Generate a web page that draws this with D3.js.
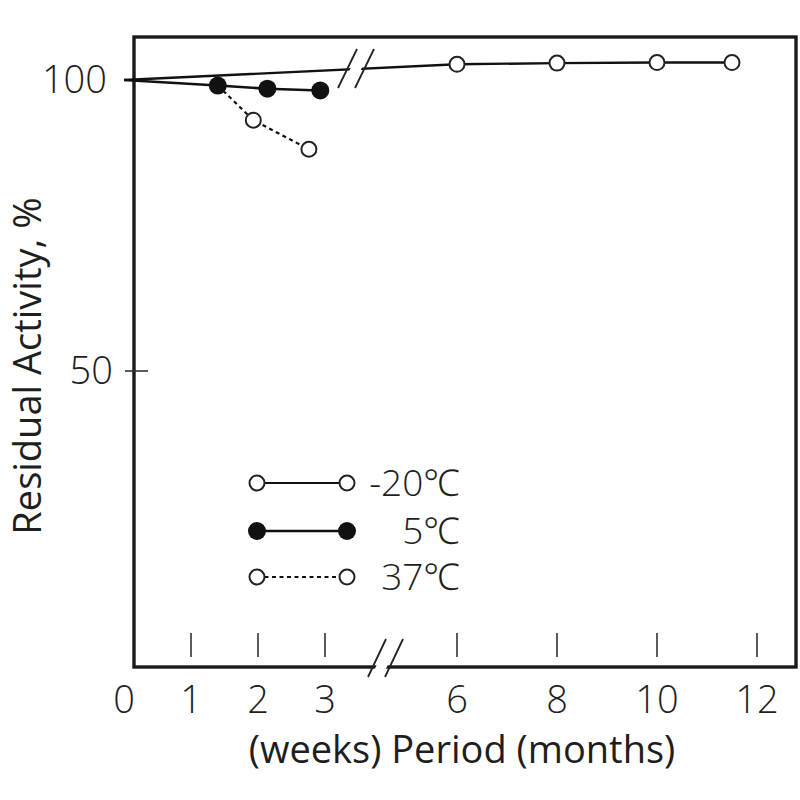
<!DOCTYPE html>
<html>
<head>
<meta charset="utf-8">
<script src="https://cdn.jsdelivr.net/npm/d3@7"></script>
<style>
  body { margin: 0; background: #fff; }
  text { font-family: "Open Sans", "Noto Sans", sans-serif; fill: #1e1e1e; }
  .light { font-weight: 300; }
</style>
</head>
<body>
<div id="chart"></div>
<script>
// Values. Left part of the x axis is in weeks, right part in months.
const weekTicks = [0, 1, 2, 3];
const monthTicks = [6, 8, 10, 12];
const yTicks = [50, 100];

// -20 C: starts at week 0, then monthly points
const coldStart = { weeks: 0, value: 100 };
const coldMonths = [6, 8, 10, 11.5];
const coldValues = [102.7, 102.9, 103.0, 103.0];

// 5 C: weeks
const fridgeWeeks = [0, 1.4, 2.14, 2.93];
const fridgeValues = [100, 99.05, 98.5, 98.2];

// 37 C: weeks (first point sits under the 5 C dot)
const warmWeeks = [1.4, 1.93, 2.76];
const warmValues = [99.05, 93.1, 88.1];

const legendLabels = ['-20\u2103', '5\u2103', '37\u2103'];

const width = 800, height = 800;
const frame = { left: 134, right: 796, top: 37, bottom: 667 };

const svg = d3.select('#chart').append('svg')
  .attr('width', width)
  .attr('height', height);

// broken x axis: two linear pieces
const xWeek = d3.scaleLinear().domain([0, 3]).range([124, 325]);
const xMonth = d3.scaleLinear().domain([6, 12]).range([457, 757]);
const y = d3.scaleLinear().domain([0, 100]).range([662, 80]);

// frame
svg.append('rect')
  .attr('x', frame.left).attr('y', frame.top)
  .attr('width', frame.right - frame.left)
  .attr('height', frame.bottom - frame.top)
  .attr('fill', 'none')
  .attr('stroke', '#1a1a1a')
  .attr('stroke-width', 3.4);

// inner tick marks on the bottom
const tickX = weekTicks.filter(d => d > 0).map(d => xWeek(d)).concat(monthTicks.map(d => xMonth(d)));
svg.append('g').selectAll('line')
  .data(tickX)
  .enter().append('line')
  .attr('x1', d => d).attr('x2', d => d)
  .attr('y1', frame.bottom - 34).attr('y2', frame.bottom - 10)
  .attr('stroke', '#333').attr('stroke-width', 1.6);

// x tick labels
const tickLabels = weekTicks.map(d => ({ x: xWeek(d), t: String(d) }))
  .concat(monthTicks.map(d => ({ x: xMonth(d), t: String(d) })));
svg.append('g').selectAll('text')
  .data(tickLabels)
  .enter().append('text')
  .attr('class', 'light')
  .attr('x', d => d.x)
  .attr('y', 713)
  .attr('text-anchor', 'middle')
  .style('font-size', '38px')
  .text(d => d.t);

// y ticks and labels
svg.append('g').selectAll('line')
  .data(yTicks)
  .enter().append('line')
  .attr('x1', 125).attr('x2', d => d === 50 ? 148 : 136)
  .attr('y1', d => y(d)).attr('y2', d => y(d))
  .attr('stroke', '#333').attr('stroke-width', 1.6);

svg.append('g').selectAll('text')
  .data(yTicks)
  .enter().append('text')
  .attr('class', 'light')
  .attr('x', d => d === 50 ? 113 : 107)
  .attr('y', d => y(d) + 13)
  .attr('text-anchor', 'end')
  .style('font-size', '38px')
  .text(d => d);

// axis titles
svg.append('text')
  .attr('x', 462).attr('y', 763)
  .attr('text-anchor', 'middle')
  .style('font-size', '38px')
  .text('(weeks) Period (months)');

svg.append('text')
  .attr('transform', 'translate(41,366) rotate(-90)')
  .attr('text-anchor', 'middle')
  .style('font-size', '38px')
  .text('Residual Activity, %');

// lines
const line = d3.line().x(d => d[0]).y(d => d[1]);

const coldPts = [[xWeek(coldStart.weeks), y(coldStart.value)]]
  .concat(coldMonths.map((m, i) => [xMonth(m), y(coldValues[i])]));
svg.append('path')
  .attr('d', line(coldPts))
  .attr('fill', 'none').attr('stroke', '#111').attr('stroke-width', 2.4);

const warmPts = warmWeeks.map((w, i) => [xWeek(w), y(warmValues[i])]);
svg.append('path')
  .attr('d', line(warmPts))
  .attr('fill', 'none').attr('stroke', '#111').attr('stroke-width', 2.2)
  .attr('stroke-dasharray', '4,3.5');

const fridgePts = fridgeWeeks.map((w, i) => [xWeek(w), y(fridgeValues[i])]);
svg.append('path')
  .attr('d', line(fridgePts))
  .attr('fill', 'none').attr('stroke', '#111').attr('stroke-width', 2.6);

// markers
svg.append('g').selectAll('circle')
  .data(coldPts.slice(1))
  .enter().append('circle')
  .attr('cx', d => d[0]).attr('cy', d => d[1]).attr('r', 7.5)
  .attr('fill', '#fff').attr('stroke', '#222').attr('stroke-width', 2);

svg.append('g').selectAll('circle')
  .data(warmPts.slice(1))
  .enter().append('circle')
  .attr('cx', d => d[0]).attr('cy', d => d[1]).attr('r', 7.5)
  .attr('fill', '#fff').attr('stroke', '#222').attr('stroke-width', 2);

svg.append('g').selectAll('circle')
  .data(fridgePts.slice(1))
  .enter().append('circle')
  .attr('cx', d => d[0]).attr('cy', d => d[1]).attr('r', 9)
  .attr('fill', '#111');

// axis break marks: white gap then two slashes
function breakMark(x0, yTop, yBot, dx, gap) {
  const g = svg.append('g');
  g.append('polygon')
    .attr('points', [[x0 + 3, yBot], [x0 + dx + 3, yTop], [x0 + dx + gap - 3, yTop], [x0 + gap - 3, yBot]].join(' '))
    .attr('fill', '#fff');
  [0, gap].forEach(o => {
    g.append('line')
      .attr('x1', x0 + o).attr('y1', yBot)
      .attr('x2', x0 + o + dx).attr('y2', yTop)
      .attr('stroke', '#222').attr('stroke-width', 1.8);
  });
}
breakMark(338, 49, 88, 19, 17);
breakMark(368, 639, 677, 18, 17);

// legend
const legendRows = [483, 531, 577];
const lg = svg.append('g');
legendLabels.forEach((label, i) => {
  const yy = legendRows[i];
  const ln = lg.append('line')
    .attr('x1', 257).attr('x2', 347).attr('y1', yy).attr('y2', yy)
    .attr('stroke', '#111').attr('stroke-width', i === 1 ? 2.6 : 2.2);
  if (i === 2) ln.attr('stroke-dasharray', '4,3.5');
  [257, 347].forEach(cx => {
    lg.append('circle')
      .attr('cx', cx).attr('cy', yy)
      .attr('r', i === 1 ? 9 : 7.5)
      .attr('fill', i === 1 ? '#111' : '#fff')
      .attr('stroke', i === 1 ? 'none' : '#222')
      .attr('stroke-width', 2);
  });
  lg.append('text')
    .attr('class', 'light')
    .attr('x', 460).attr('y', yy + 13)
    .attr('text-anchor', 'end')
    .style('font-size', '37px')
    .text(label);
});
</script>
</body>
</html>
